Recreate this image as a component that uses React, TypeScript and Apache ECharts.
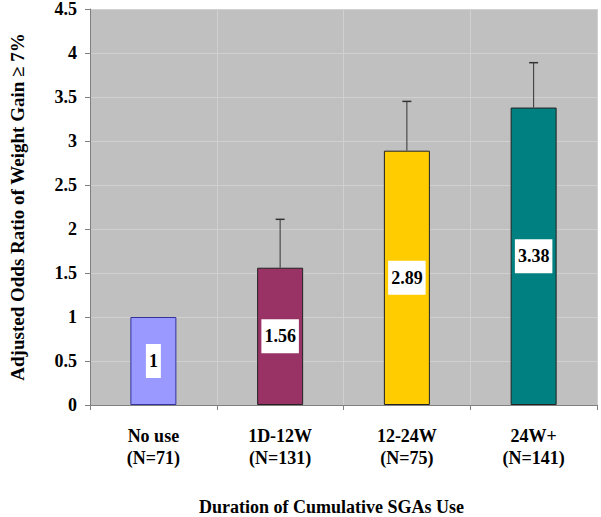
import React, { useEffect, useRef } from "react";
import * as echarts from "echarts";

const categories = ["No use\n(N=71)", "1D-12W\n(N=131)", "12-24W\n(N=75)", "24W+\n(N=141)"];
const oddsRatios = [1, 1.56, 2.89, 3.38];
const upperCI = [null, 2.11, 3.45, 3.89];
const barColors = ["#9999FF", "#993366", "#FFCC00", "#008080"];
const barBorders = ["#333399", "#222222", "#222222", "#222222"];
const yTicks = [0, 0.5, 1, 1.5, 2, 2.5, 3, 3.5, 4, 4.5];

const FONT = "'Liberation Serif', 'Times New Roman', serif";

export default function App() {
  const ref = useRef<HTMLDivElement>(null);
  useEffect(() => {
    if (!ref.current) return;
    const chart = echarts.init(ref.current, null, { renderer: "svg" });
    const errData = oddsRatios
      .map((v, i) => (upperCI[i] == null ? null : [i, v, upperCI[i]]))
      .filter((d) => d != null);
    chart.setOption({
      animation: false,
      textStyle: { fontFamily: FONT },
      grid: {
        left: 90,
        right: 4,
        top: 9,
        bottom: 112,
        show: true,
        backgroundColor: "#C0C0C0",
        borderWidth: 0,
        containLabel: false,
        outerBoundsMode: "none",
      },
      xAxis: {
        type: "category",
        data: categories,
        axisLine: { lineStyle: { color: "#808080", width: 1 } },
        axisTick: { show: true, length: 5, lineStyle: { color: "#808080" } },
        splitLine: { show: true, lineStyle: { color: "#D0D0D0", width: 1 } },
        axisLabel: {
          fontFamily: FONT,
          fontWeight: "bold",
          fontSize: 18,
          color: "#000",
          lineHeight: 22,
          margin: 20,
        },
      },
      yAxis: {
        type: "value",
        min: 0,
        max: 4.5,
        interval: 0.5,
        name: "Adjusted Odds Ratio of Weight Gain \u2265 7%",
        nameLocation: "middle",
        nameGap: 63,
        nameTextStyle: {
          fontFamily: FONT,
          fontWeight: "bold",
          fontSize: 19,
          color: "#000",
        },
        axisLine: { show: true, lineStyle: { color: "#808080", width: 1 } },
        axisTick: { show: true, length: 5, lineStyle: { color: "#808080" } },
        splitLine: { show: true, lineStyle: { color: "#D0D0D0", width: 1 } },
        axisLabel: {
          fontFamily: FONT,
          fontWeight: "bold",
          fontSize: 18,
          color: "#000",
          margin: 13,
          formatter: (v: number) => (yTicks.includes(v) ? String(v) : ""),
        },
      },
      graphic: [
        {
          type: "text",
          left: 332 - 133,
          top: 498,
          style: {
            text: "Duration of Cumulative SGAs Use",
            font: `bold 18px ${FONT}`,
            fill: "#000",
          },
        },
      ],
      series: [
        {
          type: "bar",
          barWidth: 46,
          data: oddsRatios.map((v, i) => ({
            value: v,
            itemStyle: { color: barColors[i], borderColor: barBorders[i], borderWidth: 1 },
          })),
          label: {
            show: true,
            position: "inside",
            backgroundColor: "#FFFFFF",
            padding: [8, 3, 8, 3],
            fontFamily: FONT,
            fontWeight: "bold",
            fontSize: 18,
            color: "#000",
            formatter: (p: any) => String(p.value),
          },
          z: 2,
        },
        {
          type: "custom",
          z: 3,
          data: errData,
          renderItem: (params: any, api: any) => {
            const idx = api.value(0);
            const base = api.coord([idx, api.value(1)]);
            const top = api.coord([idx, api.value(2)]);
            return {
              type: "group",
              children: [
                {
                  type: "line",
                  shape: { x1: base[0], y1: base[1], x2: top[0], y2: top[1] },
                  style: { stroke: "#333333", lineWidth: 1 },
                },
                {
                  type: "line",
                  shape: { x1: top[0] - 4.5, y1: top[1], x2: top[0] + 4.5, y2: top[1] },
                  style: { stroke: "#333333", lineWidth: 1.5 },
                },
              ],
            };
          },
        },
      ],
    });
    return () => chart.dispose();
  }, []);
  return <div ref={ref} style={{ width: 601, height: 517, position: "absolute", left: 0, top: 0 }} />;
}
